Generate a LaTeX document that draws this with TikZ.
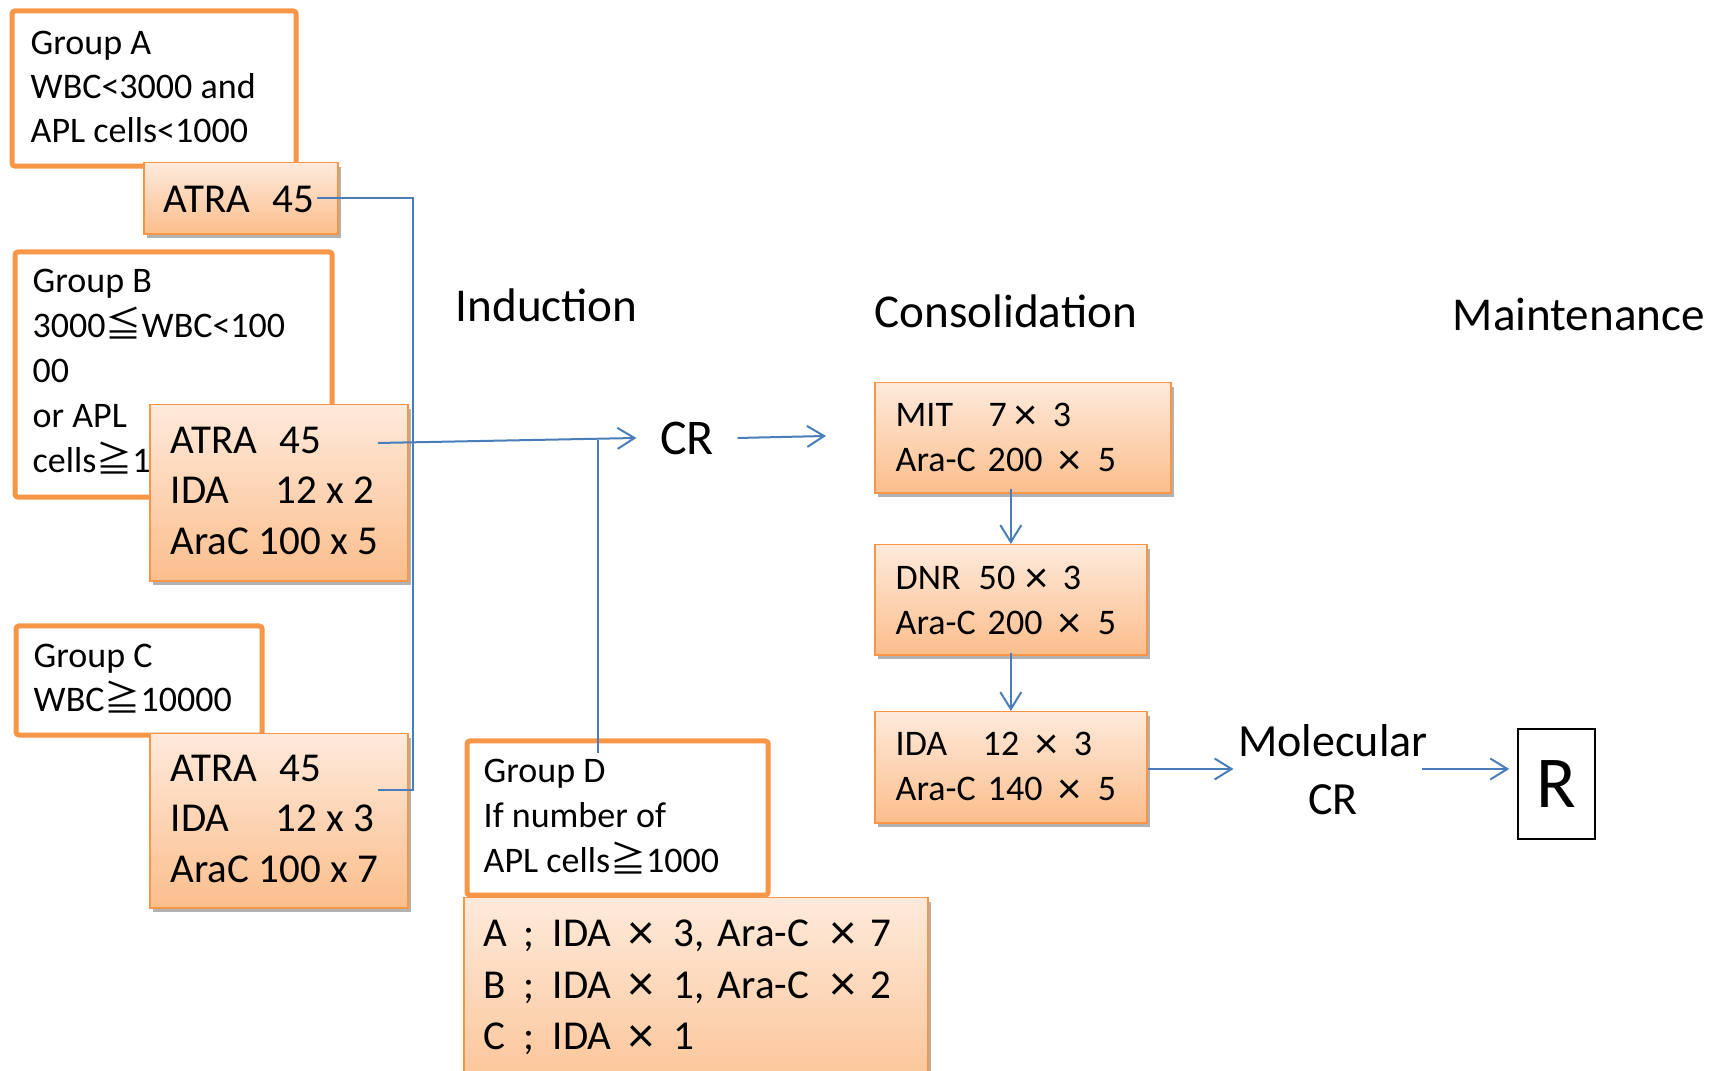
\documentclass[tikz,border=0pt]{standalone}
\usepackage{fontspec}
\usepackage{graphicx}
\setmainfont{Carlito}
\newfontfamily\cjk{Noto Sans CJK JP}
\usetikzlibrary{arrows.meta,shadows,calc}

\definecolor{boxline}{HTML}{F79646}
\definecolor{boxtop}{HTML}{FEEADB}
\definecolor{boxbot}{HTML}{FBBE8C}
\definecolor{flowblue}{HTML}{4A7EBB}

\newcommand{\geqsym}{{\cjk ≧}}
\newcommand{\leqsym}{{\cjk ≦}}
\newcommand{\timessym}{\raisebox{-0.06em}{\scalebox{1.25}{×}}}
\newcommand{\colbox}[2]{\makebox[#1][l]{#2}}

% multi-line labels are anchored at the baseline of their last line
\tikzset{
  groupbox/.style={draw=boxline, line width=0.05cm, rounded corners=0.03cm,
    fill=white, anchor=north west, inner sep=0pt},
  drugbox/.style={draw=boxline, line width=0.015cm, top color=boxtop,
    bottom color=boxbot, anchor=north west, inner sep=0pt,
    drop shadow={shadow xshift=0.03cm, shadow yshift=-0.04cm, opacity=0.3, fill=black}},
  txtbase/.style={anchor=base west, inner sep=0pt, align=left},
  grouptext/.style={txtbase, font=\fontsize{10.24pt}{12.6pt}\selectfont},
  drugtext/.style={txtbase, font=\fontsize{11.67pt}{14.5pt}\selectfont},
  constext/.style={txtbase, font=\fontsize{10.24pt}{12.8pt}\selectfont},
  phasetext/.style={txtbase, font=\fontsize{13.4pt}{16pt}\selectfont},
  bluelink/.style={draw=flowblue, line width=0.02cm},
  bluearrow/.style={bluelink, -{Straight Barb[length=0.17cm, width=0.21cm]}},
}

\begin{document}
\begin{tikzpicture}[x=0.01cm, y=-0.01cm]
\useasboundingbox (0,0) rectangle (1723,1071);

% ---------- Group A ----------
\node[groupbox, minimum width=2.84cm, minimum height=1.55cm] (grpA) at (9.5,8.5) {};
\node[grouptext] (grpAtext) at (30,143) {Group A\\WBC<3000 and\\APL cells<1000};
\node[drugbox, minimum width=1.94cm, minimum height=0.71cm] (drugA) at (143,162) {};
\node[drugtext] (drugAtext) at (163,213) {\colbox{1.09cm}{ATRA}45};

% ---------- Group B ----------
\node[groupbox, minimum width=3.17cm, minimum height=2.45cm] (grpB) at (12.5,249.5) {};
\node[grouptext, font=\fontsize{10.24pt}{12.8pt}\selectfont] (grpBtext) at (32,473)
  {Group B\\3000\leqsym WBC<100\\00\\or APL\\cells\geqsym 1000};
\node[drugbox, minimum width=2.58cm, minimum height=1.76cm] (drugB) at (149,404) {};
\node[drugtext] (drugBtext) at (170,555)
  {\colbox{1.09cm}{ATRA}45\\\colbox{1.05cm}{IDA}12 x 2\\AraC 100 x 5};

% ---------- Group C ----------
\node[groupbox, minimum width=2.46cm, minimum height=1.09cm] (grpC) at (13.5,623.5) {};
\node[grouptext] (grpCtext) at (33,712) {Group C\\WBC\geqsym 10000};
\node[drugbox, minimum width=2.58cm, minimum height=1.74cm] (drugC) at (149,733) {};
\node[drugtext] (drugCtext) at (170,883)
  {\colbox{1.09cm}{ATRA}45\\\colbox{1.05cm}{IDA}12 x 3\\AraC 100 x 7};

% ---------- Group D ----------
\node[groupbox, minimum width=3.01cm, minimum height=1.54cm] (grpD) at (464.5,738.5) {};
\node[grouptext, font=\fontsize{10.24pt}{12.8pt}\selectfont] (grpDtext) at (483,873)
  {Group D\\If number of\\APL cells\geqsym 1000};
\node[drugbox, minimum width=4.64cm, minimum height=2.2cm] (listD) at (463,897) {};
\node[drugtext, font=\fontsize{11.67pt}{14.7pt}\selectfont] (listDtext) at (483,1050)
  {\colbox{0.40cm}{A}\colbox{0.29cm}{;}\colbox{0.76cm}{IDA}\colbox{0.45cm}{\timessym}\colbox{0.44cm}{3,}\colbox{1.13cm}{Ara-C}\colbox{0.40cm}{\timessym}7\\
   \colbox{0.40cm}{B}\colbox{0.29cm}{;}\colbox{0.76cm}{IDA}\colbox{0.45cm}{\timessym}\colbox{0.44cm}{1,}\colbox{1.13cm}{Ara-C}\colbox{0.40cm}{\timessym}2\\
   \colbox{0.40cm}{C}\colbox{0.29cm}{;}\colbox{0.76cm}{IDA}\colbox{0.45cm}{\timessym}1};

% ---------- phase headings ----------
\node[phasetext] (induction) at (455,322) {Induction};
\node[phasetext] (consolidation) at (874,328) {Consolidation};
\node[phasetext] (maintenance) at (1452,331) {Maintenance};

% ---------- CR ----------
\node[font=\fontsize{14.2pt}{16pt}\selectfont, inner xsep=0.23cm, inner ysep=0pt] (cr) at (687,438) {CR};

% ---------- consolidation courses ----------
\node[drugbox, minimum width=2.96cm, minimum height=1.10cm] (mit) at (874,382) {};
\node[constext] (mittext) at (895,472)
  {\colbox{0.93cm}{MIT}\colbox{0.26cm}{7}\colbox{0.38cm}{\timessym}3\\
   \colbox{0.92cm}{Ara-C}\colbox{0.71cm}{200}\colbox{0.39cm}{\timessym}5};
\node[drugbox, minimum width=2.72cm, minimum height=1.10cm] (dnr) at (874,544) {};
\node[constext] (dnrtext) at (895,635)
  {\colbox{0.83cm}{DNR}\colbox{0.47cm}{50}\colbox{0.37cm}{\timessym}3\\
   \colbox{0.92cm}{Ara-C}\colbox{0.71cm}{200}\colbox{0.39cm}{\timessym}5};
\node[drugbox, minimum width=2.72cm, minimum height=1.11cm] (ida) at (874,711) {};
\node[constext] (idatext) at (895,801)
  {\colbox{0.87cm}{IDA}\colbox{0.53cm}{12}\colbox{0.38cm}{\timessym}3\\
   \colbox{0.92cm}{Ara-C}\colbox{0.71cm}{140}\colbox{0.39cm}{\timessym}5};

% ---------- molecular CR and maintenance ----------
\node[align=center, font=\fontsize{13.1pt}{16.5pt}\selectfont, inner xsep=0.04cm] (mol) at (1333,770) {Molecular\\CR};
\node[draw=black, line width=0.015cm, minimum width=0.77cm, minimum height=1.10cm,
      inner sep=0pt, font=\fontsize{20.8pt}{24pt}\selectfont] (rbox) at (1556.5,784) {R};

% ---------- connectors ----------
\coordinate (aOut) at (317,198);
\coordinate (bOut) at (378,443);
\coordinate (cOut) at (378,790);
\coordinate (busTop) at (413,198);
\coordinate (busBot) at (413,790);
\coordinate (dJoin) at (598,440);
\coordinate (dEnd) at (598,753);
\coordinate (consIn) at (826,436);
\coordinate (molOut) at (1422,769);

\draw[bluelink] (aOut) -- (busTop) -- (busBot) -- (cOut);
\draw[bluearrow] (bOut) -- (cr.west);
\draw[bluelink] (dJoin) -- (dEnd);
\draw[bluearrow] (cr.east) -- (consIn);
\draw[bluearrow] ([yshift=0.05cm]dnr.north |- mit.south) -- (dnr.north);
\draw[bluearrow] ([yshift=0.03cm]ida.north |- dnr.south) -- (ida.north);
\draw[bluearrow] (ida.east |- molOut) -- (molOut -| mol.west);
\draw[bluearrow, shorten >=0.08cm] (molOut) -- (molOut -| rbox.west);
\end{tikzpicture}
\end{document}
